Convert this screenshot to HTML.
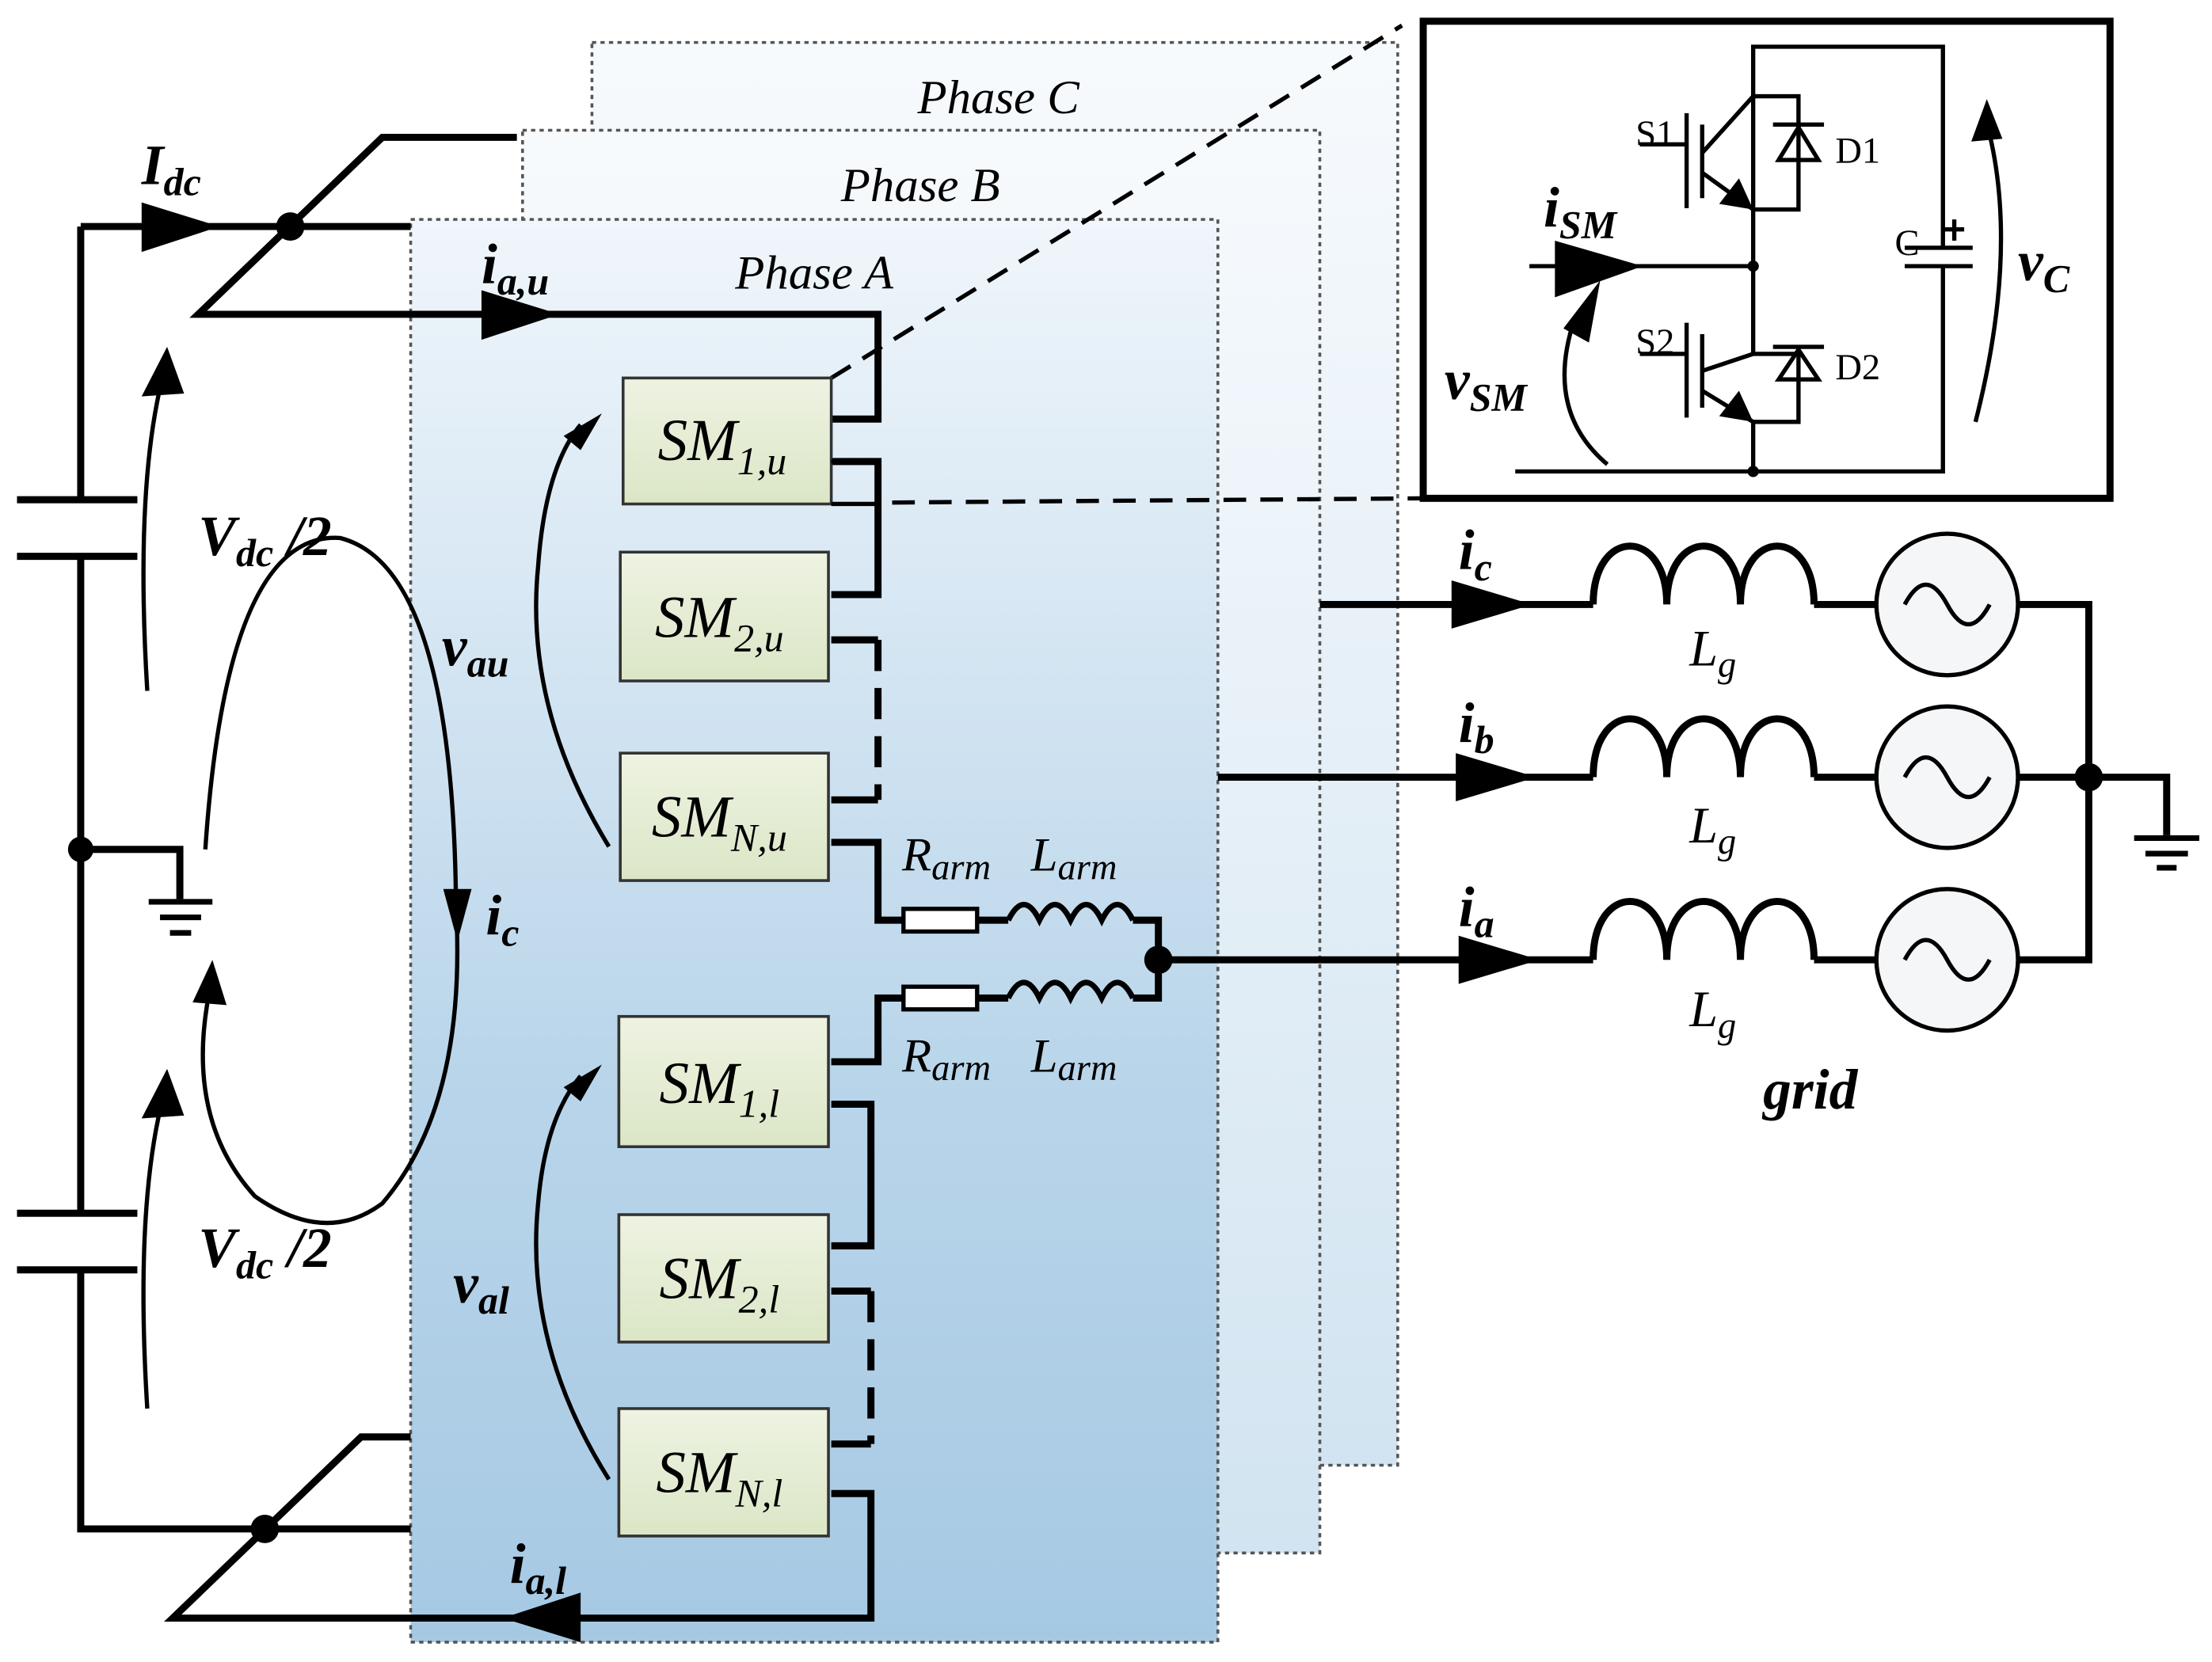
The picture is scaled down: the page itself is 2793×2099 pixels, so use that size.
<!DOCTYPE html>
<html><head><meta charset="utf-8"><style>
html,body{margin:0;padding:0;background:#fff}
svg{display:block}
text{font-family:"Liberation Serif",serif}
.l{font-style:italic;font-weight:bold;font-size:40px}
.s{font-size:26px}
.ph{font-style:italic;font-size:34px}
.sm{font-style:italic;font-size:42px}
</style></head><body>
<svg width="2793" height="2099" viewBox="0 0 1562 1174" preserveAspectRatio="none" xmlns="http://www.w3.org/2000/svg">
<defs>
<linearGradient id="gC" x1="0" y1="0" x2="0" y2="1"><stop offset="0" stop-color="#f7fafd"/><stop offset="1" stop-color="#d2e4f1"/></linearGradient>
<linearGradient id="gA" x1="0" y1="0" x2="0" y2="1"><stop offset="0" stop-color="#f0f6fb"/><stop offset="0.6" stop-color="#b9d5ea"/><stop offset="1" stop-color="#a6c9e3"/></linearGradient>
<linearGradient id="gS" x1="0" y1="0" x2="0" y2="1"><stop offset="0" stop-color="#eef3e2"/><stop offset="1" stop-color="#dbe6c6"/></linearGradient>
</defs>
<g stroke="#555" stroke-width="2" stroke-dasharray="3,3">
<rect x="418" y="30" width="569" height="1005" fill="url(#gC)"/>
<rect x="369" y="92" width="563" height="1005" fill="url(#gC)"/>
<rect x="290" y="155" width="570" height="1005" fill="url(#gA)"/>
</g>
<text x="705" y="80" class="ph" text-anchor="middle">Phase C</text>
<text x="650" y="142" class="ph" text-anchor="middle">Phase B</text>
<text x="575" y="204" class="ph" text-anchor="middle">Phase A</text>
<g fill="none" stroke="#000" stroke-width="5">
<polyline points="57,160 57,353"/><line x1="12" y1="353" x2="97" y2="353"/><line x1="12" y1="393" x2="97" y2="393"/>
<polyline points="57,393 57,857"/><line x1="12" y1="857" x2="97" y2="857"/><line x1="12" y1="897" x2="97" y2="897"/>
<polyline points="57,897 57,1080 290,1080"/>
<polyline points="57,160 290,160"/>
<polyline points="365,97 270,97 140,222 620,222 620,296 587,296"/>
<polyline points="57,600 127,600 127,635"/>
<polyline points="290,1015 255,1015 122,1143 615,1143 615,1055 587,1055"/>
<polyline points="587,326 620,326 620,420 587,420"/>
<polyline points="587,452 620,452"/>
<polyline points="587,595 620,595 620,650 638,650"/>
<polyline points="690,650 712,650"/>
<polyline points="800,650 818,650 818,705 800,705"/>
<polyline points="712,705 690,705"/>
<polyline points="638,705 620,705 620,750 587,750"/>
<polyline points="587,780 615,780 615,880 587,880"/>
<polyline points="587,912 615,912"/>
<polyline points="587,1020 615,1020"/>
<line x1="620" y1="452" x2="620" y2="565" stroke-dasharray="22,12"/>
<line x1="620" y1="565" x2="587" y2="565"/>
<line x1="615" y1="912" x2="615" y2="1020" stroke-dasharray="22,12"/>
<path d="M712,650 q11,-22 22,0 q11,-22 22,0 q11,-22 22,0 q11,-22 22,0" stroke-width="4"/>
<path d="M712,705 q11,-22 22,0 q11,-22 22,0 q11,-22 22,0 q11,-22 22,0" stroke-width="4"/>
<polyline points="818,678 1125,678"/>
<polyline points="860,549 1125,549"/>
<polyline points="932,427 1125,427"/>
<path d="M1125,678 c0,-55 52,-55 52,0 c0,-55 52,-55 52,0 c0,-55 52,-55 52,0" />
<path d="M1125,549 c0,-55 52,-55 52,0 c0,-55 52,-55 52,0 c0,-55 52,-55 52,0" />
<path d="M1125,427 c0,-55 52,-55 52,0 c0,-55 52,-55 52,0 c0,-55 52,-55 52,0" />
<polyline points="1281,678 1325,678"/><polyline points="1281,549 1325,549"/><polyline points="1281,427 1325,427"/>
<polyline points="1425,427 1475,427 1475,678 1425,678"/>
<polyline points="1425,549 1530,549 1530,590"/>
<rect x="1005" y="15" width="485" height="337"/>
</g>
<g fill="#fff" stroke="#000" stroke-width="3"><rect x="638" y="642" width="52" height="16"/><rect x="638" y="697" width="52" height="16"/></g>
<g stroke="#000" stroke-width="3" fill="#f4f6f8">
<circle cx="1375" cy="427" r="50"/><circle cx="1375" cy="549" r="50"/><circle cx="1375" cy="678" r="50"/>
</g>
<g fill="none" stroke="#000" stroke-width="3">
<path d="M1345,427 q15,-28 30,0 t30,0"/><path d="M1345,549 q15,-28 30,0 t30,0"/><path d="M1345,678 q15,-28 30,0 t30,0"/>
</g>
<g stroke="#000" stroke-width="4"><line x1="105" y1="637" x2="150" y2="637"/><line x1="113" y1="648" x2="142" y2="648"/><line x1="120" y1="659" x2="135" y2="659"/>
<line x1="1507" y1="592" x2="1553" y2="592"/><line x1="1515" y1="603" x2="1545" y2="603"/><line x1="1523" y1="613" x2="1537" y2="613"/></g>
<g fill="#000"><circle cx="57" cy="600" r="9"/><circle cx="205" cy="160" r="10"/><circle cx="187" cy="1080" r="10"/><circle cx="818" cy="678" r="10"/><circle cx="1475" cy="549" r="10"/></g>
<g fill="#000">
<polygon points="100,143 155,160 100,178"/>
<polygon points="340,205 395,222 340,240"/>
<polygon points="410,1125 355,1143 410,1160"/>
<polygon points="1025,410 1082,427 1025,444"/>
<polygon points="1028,532 1085,549 1028,566"/>
<polygon points="1030,661 1087,678 1030,695"/>
<polygon points="1098,170 1160,188 1098,210"/>
</g>
<g stroke="#000" stroke-width="3" stroke-dasharray="16,10" fill="none"><line x1="587" y1="267" x2="990" y2="18"/><line x1="630" y1="355" x2="1005" y2="352"/></g>
<g fill="url(#gS)" stroke="#333" stroke-width="2">
<rect x="440" y="267" width="147" height="89"/><rect x="438" y="390" width="147" height="91"/><rect x="438" y="532" width="147" height="90"/>
<rect x="437" y="718" width="148" height="92"/><rect x="437" y="858" width="148" height="90"/><rect x="437" y="995" width="148" height="90"/>
</g>
<g stroke="#000" stroke-width="3"><line x1="587" y1="326" x2="620" y2="326"/><line x1="587" y1="356" x2="620" y2="356"/></g>
<g class="sm" text-anchor="middle">
<text x="510" y="325">SM<tspan font-size="28" dy="10">1,u</tspan></text>
<text x="508" y="450">SM<tspan font-size="28" dy="10">2,u</tspan></text>
<text x="508" y="591">SM<tspan font-size="28" dy="10">N,u</tspan></text>
<text x="508" y="779">SM<tspan font-size="28" dy="10">1,l</tspan></text>
<text x="508" y="917">SM<tspan font-size="28" dy="10">2,l</tspan></text>
<text x="508" y="1054">SM<tspan font-size="28" dy="10">N,l</tspan></text>
</g>
<g fill="none" stroke="#000" stroke-width="3">
<path d="M104,488 Q95,340 116,262"/><path d="M104,995 Q95,850 116,772"/>
<path d="M148,700 Q130,790 180,845 Q230,880 270,850 Q330,780 322,640 Q320,400 240,380 Q160,375 145,600"/>
<path d="M430,598 Q370,500 380,400 Q385,330 410,300"/>
<path d="M430,1045 Q370,950 380,850 Q385,790 410,760"/>
<path d="M1135,328 Q1090,290 1112,225"/>
<path d="M1395,298 Q1425,180 1405,95"/>
</g>
<g fill="#000">
<polygon points="118,245 100,280 130,278"/><polygon points="118,755 100,790 130,788"/>
<polygon points="150,678 136,708 160,710"/>
<polygon points="313,628 323,665 333,628"/>
<polygon points="425,292 398,308 410,318"/><polygon points="425,752 398,768 410,778"/>
<polygon points="1130,198 1104,232 1122,242"/>
<polygon points="1403,70 1392,100 1414,98"/>
</g>
<g fill="none" stroke="#000" stroke-width="3">
<polyline points="1238,148 1238,33 1372,33 1372,175"/><polyline points="1372,188 1372,333 1070,333"/>
<line x1="1345" y1="175" x2="1393" y2="175"/><line x1="1345" y1="188" x2="1393" y2="188"/>
<line x1="1080" y1="188" x2="1238" y2="188"/>
<polyline points="1238,148 1238,250"/><polyline points="1238,298 1238,333"/>
<polyline points="1238,68 1270,68 1270,148 1238,148"/><polyline points="1238,250 1270,250 1270,298 1238,298"/>
<line x1="1238" y1="68" x2="1202" y2="108"/><line x1="1202" y1="122" x2="1238" y2="148"/>
<line x1="1238" y1="250" x2="1202" y2="262"/><line x1="1202" y1="276" x2="1238" y2="298"/>
<line x1="1202" y1="88" x2="1202" y2="140"/><line x1="1191" y1="80" x2="1191" y2="147"/><line x1="1158" y1="102" x2="1191" y2="102"/>
<line x1="1202" y1="236" x2="1202" y2="288"/><line x1="1191" y1="228" x2="1191" y2="295"/><line x1="1158" y1="250" x2="1191" y2="250"/>
<line x1="1252" y1="88" x2="1288" y2="88"/><polygon points="1256,113 1284,113 1270,90"/>
<line x1="1252" y1="245" x2="1288" y2="245"/><polygon points="1256,268 1284,268 1270,247"/>
<line x1="1380" y1="155" x2="1380" y2="170"/><line x1="1373" y1="162" x2="1387" y2="162"/>
</g>
<g fill="#000"><polygon points="1214,144 1238,148 1228,126"/><polygon points="1214,294 1238,298 1228,276"/><circle cx="1238" cy="188" r="4"/><circle cx="1238" cy="333" r="4"/></g>
<g class="s"><text x="1155" y="103">S1</text><text x="1296" y="115">D1</text><text x="1155" y="250">S2</text><text x="1296" y="268">D2</text><text x="1338" y="180">C</text></g>
<g class="l">
<text x="100" y="130">I<tspan font-size="28" dy="8">dc</tspan></text>
<text x="340" y="200">i<tspan font-size="28" dy="8">a,u</tspan></text>
<text x="360" y="1118">i<tspan font-size="28" dy="8">a,l</tspan></text>
<text x="140" y="392">V<tspan font-size="28" dy="8">dc</tspan><tspan dy="-8"> /2</tspan></text>
<text x="140" y="895">V<tspan font-size="28" dy="8">dc</tspan><tspan dy="-8"> /2</tspan></text>
<text x="312" y="470">v<tspan font-size="28" dy="8">au</tspan></text>
<text x="320" y="920">v<tspan font-size="28" dy="8">al</tspan></text>
<text x="343" y="660">i<tspan font-size="28" dy="8">c</tspan></text>
<text x="1030" y="402">i<tspan font-size="28" dy="8">c</tspan></text>
<text x="1030" y="524">i<tspan font-size="28" dy="8">b</tspan></text>
<text x="1030" y="654">i<tspan font-size="28" dy="8">a</tspan></text>
<text x="1090" y="160">i<tspan font-size="28" dy="8">SM</tspan></text>
<text x="1020" y="282">v<tspan font-size="28" dy="8">SM</tspan></text>
<text x="1425" y="198">v<tspan font-size="28" dy="8">C</tspan></text>
<text x="1245" y="783">grid</text>
</g>
<g class="sm">
<text x="1193" y="470" font-size="36">L<tspan font-size="26" dy="8">g</tspan></text>
<text x="1193" y="595" font-size="36">L<tspan font-size="26" dy="8">g</tspan></text>
<text x="1193" y="725" font-size="36">L<tspan font-size="26" dy="8">g</tspan></text>
<text x="637" y="615" font-size="34">R<tspan font-size="26" dy="6">arm</tspan></text>
<text x="728" y="615" font-size="34">L<tspan font-size="26" dy="6">arm</tspan></text>
<text x="637" y="757" font-size="34">R<tspan font-size="26" dy="6">arm</tspan></text>
<text x="728" y="757" font-size="34">L<tspan font-size="26" dy="6">arm</tspan></text>
</g>
</svg>
</body></html>
